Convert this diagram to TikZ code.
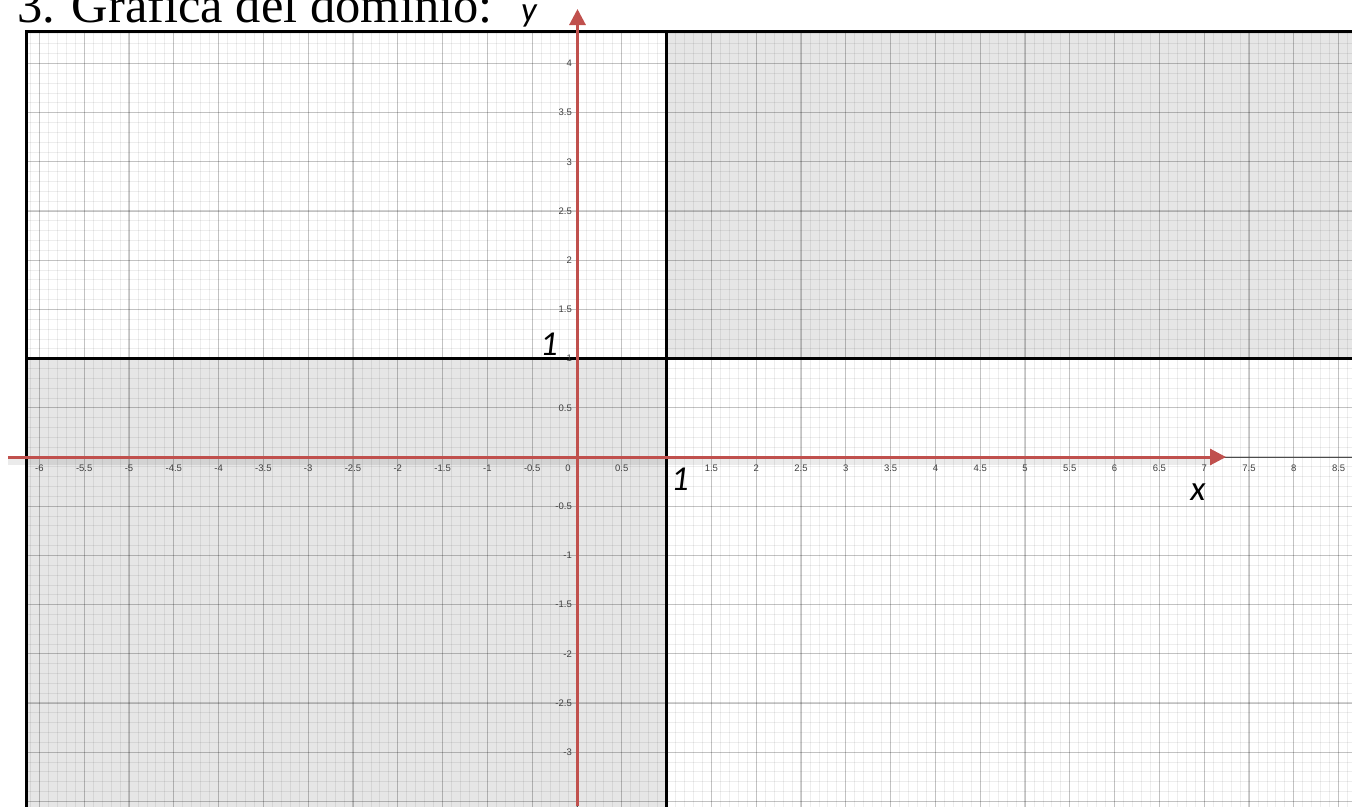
\documentclass[tikz,border=0pt]{standalone}
\usepackage{fontspec}
\setmainfont{Liberation Serif}
\newfontfamily\calfont{Carlito}
\newfontfamily\tickfont{Liberation Sans}
\usetikzlibrary{arrows.meta}
\definecolor{axred}{HTML}{C0504D}
\definecolor{shadegray}{HTML}{E6E6E6}
\begin{document}
\begin{tikzpicture}[x=1pt,y=-1pt,
  lbl/.style={font=\calfont\itshape\fontsize{35}{35}\selectfont, inner sep=0pt},
  ticklbl/.style={font=\tickfont\fontsize{9.5}{9.5}\selectfont, text=black!75, inner sep=0pt},
  redaxis/.style={draw=axred, line width=3pt, -{Triangle[length=16pt,width=16pt]}},
  minorgrid/.style={draw=black, opacity=0.07, line width=0.8pt},
  majorgrid/.style={draw=black, opacity=0.18, line width=1.3pt},
  frameline/.style={draw=black, line width=3pt},
  boundary/.style={draw=black, line width=2.5pt},
  ggaxis/.style={draw=black!70, line width=1pt}]
\useasboundingbox (0,0) rectangle (1352,806);
\begin{scope}
\clip (0,0) rectangle (1352,806);
\fill[white] (0,0) rectangle (1352,806);
\begin{scope}[shift={(577,457)}, x=89.6pt, y=98.4pt]
  \def\xl{-6.14}\def\xr{8.75}\def\yb{-3.7}\def\yt{4.32}
  \fill[shadegray] (\xl,\yb) rectangle (1,1);
  \fill[shadegray] (1,1) rectangle (\xr,\yt);
  \foreach \i in {-61,...,87} \draw[minorgrid] (\i/10,\yb) -- (\i/10,\yt);
  \foreach \j in {-36,...,43} \draw[minorgrid] (\xl,\j/10) -- (\xr,\j/10);
  \foreach \i in {-12,...,17} \draw[majorgrid] (\i/2,\yb) -- (\i/2,\yt);
  \foreach \j in {-7,...,8} \draw[majorgrid] (\xl,\j/2) -- (\xr,\j/2);
  \draw[ggaxis] (\xl,0) -- (\xr,0);
  \draw[ggaxis] (0,\yb) -- (0,\yt);
  \draw[boundary] (1,\yb) -- (1,\yt);
  \draw[boundary] (\xl,1) -- (\xr,1);
  \draw[frameline] (\xl,\yb) -- (\xl,\yt) -- (\xr,\yt);
  \foreach \v [count=\k] in {-6,-5.5,-5,-4.5,-4,-3.5,-3,-2.5,-2,-1.5,-1,-0.5,0.5,1.5,2,2.5,3,3.5,4,4.5,5,5.5,6,6.5,7,7.5,8,8.5}
    \node[ticklbl] (xt\k) at ([yshift=-11pt]\v,0) {\v};
  \node[ticklbl] (xt0) at ([xshift=-9pt,yshift=-11pt]0,0) {0};
  \foreach \v [count=\k] in {4,3.5,3,2.5,2,1.5,1,0.5,-0.5,-1,-1.5,-2,-2.5,-3}
    \node[ticklbl, anchor=east] (yt\k) at ([xshift=-5pt]0,\v) {\v};
\end{scope}
\draw[black, opacity=0.08, line width=6pt] (8,462) -- (1212,462);
\coordinate (xs) at (8,457);
\coordinate (xe) at (1226,457);
\coordinate (ys) at (577.5,806);
\coordinate (ye) at (577.5,9);
\draw[redaxis] (xs) -- (xe);
\draw[redaxis] (ys) -- (ye);
\node[anchor=base west, font=\fontsize{50.5}{50.5}\selectfont, inner sep=0pt] (title) at (17,22) {3. Grafica del dominio:};
\node[lbl, anchor=base] (ylab) at (529,21) {y};
\node[lbl, anchor=base] (xlab) at (1198,500) {x};
\node[lbl, anchor=base] (oney) at (549,355) {1};
\node[lbl, anchor=base] (onex) at (680,490) {1};
\end{scope}
\end{tikzpicture}
\end{document}
